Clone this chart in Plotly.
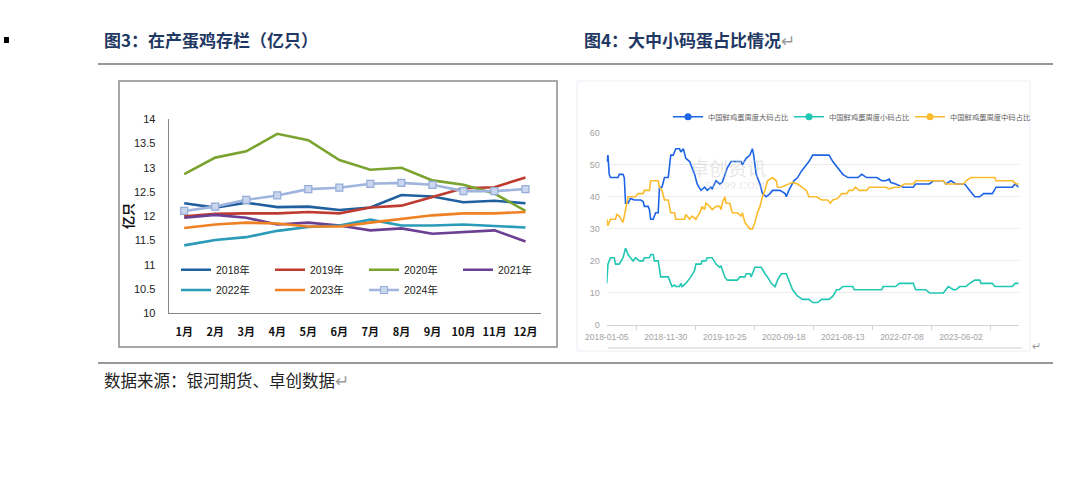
import plotly.graph_objects as go

W, H = 1080, 490

# ---------- 图3 在产蛋鸡存栏（亿只） ----------
months = ["1月", "2月", "3月", "4月", "5月", "6月", "7月", "8月", "9月", "10月", "11月", "12月"]
y2018 = [12.27, 12.18, 12.28, 12.19, 12.20, 12.13, 12.18, 12.44, 12.41, 12.29, 12.32, 12.27]
y2019 = [12.00, 12.05, 12.06, 12.06, 12.09, 12.06, 12.18, 12.22, 12.40, 12.58, 12.60, 12.80]
y2020 = [12.87, 13.21, 13.34, 13.70, 13.57, 13.16, 12.96, 13.00, 12.74, 12.65, 12.47, 12.11]
y2021 = [11.97, 12.03, 11.97, 11.83, 11.87, 11.81, 11.71, 11.75, 11.64, 11.68, 11.71, 11.48]
y2022 = [11.40, 11.51, 11.57, 11.70, 11.78, 11.81, 11.93, 11.81, 11.81, 11.83, 11.80, 11.77]
y2023 = [11.76, 11.83, 11.87, 11.85, 11.79, 11.79, 11.87, 11.94, 12.02, 12.06, 12.06, 12.09]
y2024 = [12.11, 12.20, 12.34, 12.43, 12.56, 12.59, 12.67, 12.69, 12.65, 12.52, 12.52, 12.56]

# ---------- 图4 大中小码蛋占比情况（周度） ----------
week_labels = ["2018-01-05", "2018-11-30", "2019-10-25", "2020-09-18",
               "2021-08-13", "2022-07-08", "2023-06-02"]
week_label_pos = [0, 47, 94, 141, 188, 235, 282]

big_w = [0, 1, 2, 3, 9, 10, 13, 14, 15, 17, 19, 22, 27, 29, 30, 33, 34, 35, 37, 39,
         41, 42, 44, 46, 49, 51, 53, 55, 58, 59, 61, 63, 66, 67, 70, 72, 75, 78, 80, 83,
         84, 87, 90, 92, 95, 96, 99, 103, 107, 108, 111, 114, 116, 117, 119, 122, 124, 127, 130, 132,
         138, 142, 143, 145, 149, 152, 155, 159, 161, 164, 177, 180, 184, 188, 192, 200, 203, 207, 215, 219,
         222, 225, 226, 230, 236, 244, 246, 257, 260, 268, 270, 274, 278, 285, 289, 293, 297, 300, 307, 310,
         323, 325, 328]
big_v = [51, 53, 47, 46, 46, 47, 47, 46, 38, 38, 39.5, 39, 39, 38.5, 37, 37, 36, 33, 33, 35,
         35, 43, 43, 46, 46, 53, 53, 55, 55, 54, 55, 52, 51, 50, 47, 44, 42, 43, 42, 43,
         42.5, 45, 44, 44.5, 48, 49, 51, 51, 51, 50, 52, 53, 55, 53, 47, 44, 41, 40, 41, 42,
         42, 41, 40, 42, 45, 46, 48, 50, 51, 53, 53, 51, 49, 47, 46, 46, 47, 46, 46, 45,
         45, 45.5, 44.5, 44, 43, 43, 44, 44, 45, 45, 44, 45, 44, 44, 42, 40, 40, 41, 41, 43,
         43, 44, 43]

mid_w = [0, 1, 3, 7, 8, 10, 13, 15, 17, 19, 23, 25, 29, 30, 34, 35, 41, 42, 44, 46,
         49, 51, 54, 55, 62, 63, 66, 68, 71, 74, 76, 78, 79, 82, 84, 87, 90, 91, 92, 94,
         95, 98, 100, 104, 107, 108, 110, 112, 114, 116, 118, 120, 122, 124, 126, 128, 132, 135, 136, 139,
         142, 145, 148, 152, 156, 159, 161, 167, 171, 176, 178, 180, 184, 187, 191, 193, 196, 198, 201, 207,
         209, 222, 225, 229, 233, 237, 244, 246, 268, 270, 284, 286, 290, 309, 310, 323, 326, 328]
mid_v = [33, 31, 33, 33, 34.5, 34, 32, 36, 40, 40, 40, 41, 41, 42, 42, 45, 45, 43, 42, 39,
         39, 35, 35, 33, 33, 34.5, 33, 34, 33, 35, 37, 36, 38, 37, 36, 37, 37, 36, 38, 40,
         38, 38, 35, 35, 34, 35, 32, 31, 30, 30, 32, 35, 37, 40, 42, 45, 46, 45, 43, 43,
         43.5, 44, 44.5, 44, 43, 42, 40, 40, 39, 39, 38, 39, 39.5, 41, 41, 42, 42, 43, 42, 42,
         43, 43, 42.5, 43, 43, 44, 44, 45, 45, 44, 44, 45, 46, 46, 45, 45, 44, 44]

small_w = [0, 1, 3, 6, 7, 10, 13, 15, 17, 19, 21, 23, 26, 29, 30, 34, 35, 37, 38, 41,
           42, 43, 49, 50, 52, 54, 55, 58, 59, 60, 63, 65, 67, 70, 71, 75, 76, 79, 80, 84,
           87, 90, 91, 94, 96, 104, 106, 110, 111, 114, 115, 118, 123, 126, 128, 131, 134, 136, 139, 143,
           145, 148, 152, 156, 161, 164, 168, 171, 177, 180, 183, 185, 188, 196, 197, 219, 220, 230, 233, 244,
           246, 254, 257, 268, 270, 272, 276, 278, 281, 286, 289, 293, 297, 298, 307, 309, 323, 325, 328]
small_v = [13, 19, 21, 21, 19, 19, 21, 24, 22, 21, 20, 21, 20, 20, 21, 21, 22, 22, 20, 20,
           18, 15, 15, 14, 12, 12.5, 12, 12, 13, 12, 13, 14, 15, 17, 19, 19, 20, 20, 21, 21,
           19, 18, 18.5, 15, 14, 14, 15, 15, 16, 16, 15, 18, 18, 16, 15, 13, 12, 14, 16, 16,
           14, 11, 9, 8, 8, 7, 7, 8, 8, 9, 11, 11, 12, 12, 11, 11, 12, 12, 13, 13,
           11, 11, 10, 10, 11, 12, 11, 11, 12, 12, 13, 14, 14, 13, 13, 12, 12, 13, 13]

FONT = "Liberation Sans, Noto Sans CJK SC, sans-serif"
CJK = "Noto Sans CJK SC, sans-serif"


def px(x):
    return x / W


def py(y):
    return 1 - y / H


fig = go.Figure()

left_series = [
    ("2018年", y2018, "#20609f", "legend"),
    ("2019年", y2019, "#be3b30", "legend"),
    ("2020年", y2020, "#7ba330", "legend"),
    ("2021年", y2021, "#6b3f92", "legend"),
    ("2022年", y2022, "#2a9bb8", "legend2"),
    ("2023年", y2023, "#ee8124", "legend2"),
]
for name, vals, col, lg in left_series:
    fig.add_trace(go.Scatter(
        x=months, y=vals, name=name, mode="lines", legend=lg,
        line=dict(color=col, width=2.6), xaxis="x", yaxis="y"))

fig.add_trace(go.Scatter(
    x=months, y=y2024, name="2024年", mode="lines+markers", legend="legend2",
    line=dict(color="#9fb5dd", width=2.6),
    marker=dict(symbol="square", size=7, color="#c9d6ee",
                line=dict(color="#94acd8", width=1.2)),
    xaxis="x", yaxis="y"))

right_series = [
    ("中国鲜鸡蛋周度大码占比", big_w, big_v, "#1d64e6"),
    ("中国鲜鸡蛋周度小码占比", small_w, small_v, "#21c7b3"),
    ("中国鲜鸡蛋周度中码占比", mid_w, mid_v, "#fbbb2c"),
]
for name, wk, vals, col in right_series:
    fig.add_trace(go.Scatter(
        x=wk, y=vals, mode="lines", showlegend=False,
        line=dict(color=col, width=1.6), xaxis="x2", yaxis="y2", hoverinfo="skip"))
    # legend-only entry (line + dot icon)
    fig.add_trace(go.Scatter(
        x=[None], y=[None], name=name, mode="lines+markers", legend="legend3",
        line=dict(color=col, width=1.6), marker=dict(color=col, size=7),
        xaxis="x2", yaxis="y2"))

mid_ticks = [p + 23.5 for p in week_label_pos] + [week_label_pos[-1] + 47 + 23.5]

fig.update_layout(
    width=W, height=H, margin=dict(l=0, r=0, t=0, b=0, autoexpand=False),
    paper_bgcolor="white", plot_bgcolor="white",
    font=dict(family=FONT, color="#333"),
    xaxis=dict(domain=[px(168.7), px(541)], type="category", range=[-0.5, 11.5],
               anchor="y", showgrid=False, showline=True, linecolor="#888", linewidth=1.2,
               ticks="", ticklabelstandoff=8,
               tickfont=dict(family=CJK, size=11, color="#111", weight="bold")),
    yaxis=dict(domain=[py(313.3), py(119.3)], range=[10, 14], dtick=0.5, anchor="x",
               showgrid=False, showline=True, linecolor="#888", linewidth=1.2,
               ticks="", ticklabelstandoff=10, zeroline=False,
               tickfont=dict(size=11, color="#222")),
    xaxis2=dict(domain=[px(606.7), px(1018.7)], range=[0, 328], anchor="y2",
                tickvals=week_label_pos, ticktext=week_labels,
                showgrid=False, showline=True, linecolor="#cfd3da", linewidth=1.2,
                zeroline=False, ticks="", ticklabelstandoff=4,
                minor=dict(tickvals=mid_ticks, ticks="outside", ticklen=4,
                           tickcolor="#cfd3da", showgrid=False),
                tickfont=dict(size=8.5, color="#a3a3a3")),
    yaxis2=dict(domain=[py(325), py(132.7)], range=[0, 60], dtick=10, anchor="x2",
                showgrid=True, gridcolor="#ececec", gridwidth=1, zeroline=False,
                showline=False, ticks="", ticklabelstandoff=6,
                tickfont=dict(size=9, color="#a3a3a3")),
    legend=dict(orientation="h", x=px(176), xanchor="left", y=py(269.7), yanchor="middle",
                entrywidth=49, entrywidthmode="pixels", bgcolor="rgba(0,0,0,0)",
                font=dict(size=10.5, color="#222"), tracegroupgap=0),
    legend2=dict(orientation="h", x=px(176), xanchor="left", y=py(290), yanchor="middle",
                 entrywidth=49, entrywidthmode="pixels", bgcolor="rgba(0,0,0,0)",
                 font=dict(size=10.5, color="#222"), tracegroupgap=0),
    legend3=dict(orientation="h", x=px(668), xanchor="left", y=py(116.7), yanchor="middle",
                 entrywidth=76, entrywidthmode="pixels", bgcolor="rgba(0,0,0,0)",
                 font=dict(family=CJK, size=7.3, color="#5f5f5f"), tracegroupgap=0),
)

shapes = [
    # bullet square
    dict(type="rect", x0=px(4), x1=px(9), y0=py(43), y1=py(37), fillcolor="#000", line_width=0),
    # top and bottom rules
    dict(type="line", x0=px(98), x1=px(1053), y0=py(64), y1=py(64), line=dict(color="#333", width=1.2)),
    dict(type="line", x0=px(98), x1=px(1053), y0=py(363), y1=py(363), line=dict(color="#333", width=1.2)),
    # left chart frame
    dict(type="rect", x0=px(119), x1=px(557), y0=py(347), y1=py(81), line=dict(color="#8c8c8c", width=1.5)),
    # right chart faint frame
    dict(type="rect", x0=px(577), x1=px(1030), y0=py(351), y1=py(81), line=dict(color="#eaeff5", width=1)),
    dict(type="line", x0=px(608), x1=px(1022), y0=py(348), y1=py(348), line=dict(color="#cfcfcf", width=1)),
]
for s in shapes:
    s.update(xref="paper", yref="paper")
fig.update_layout(shapes=shapes)

annotations = [
    dict(x=px(102), y=py(40), text="图3：在产蛋鸡存栏（亿只）", xanchor="left", yanchor="middle",
         font=dict(family=CJK, size=17, color="#1f3864", weight="bold")),
    dict(x=px(582), y=py(40), text="图4：大中小码蛋占比情况<span style='color:#9a9a9a;font-weight:normal'>↵</span>",
         xanchor="left", yanchor="middle",
         font=dict(family=CJK, size=17, color="#1f3864", weight="bold")),
    dict(x=px(102), y=py(380), text="数据来源：银河期货、卓创数据<span style='color:#9a9a9a'>↵</span>",
         xanchor="left", yanchor="middle", font=dict(family=CJK, size=16.5, color="#222")),
    dict(x=px(128), y=py(216), text="亿只", textangle=-90, xanchor="center", yanchor="middle",
         font=dict(family=CJK, size=13, color="#111", weight="bold")),
    dict(x=px(1036), y=py(345), text="↵", xanchor="center", yanchor="middle",
         font=dict(family=CJK, size=11, color="#9a9a9a")),
    # faint watermark
    dict(x=px(728), y=py(167), text="卓创资讯", xanchor="center", yanchor="middle",
         font=dict(family=CJK, size=19, color="rgba(200,200,200,0.45)")),
    dict(x=px(735), y=py(185), text="SCI99.COM", xanchor="center", yanchor="middle",
         font=dict(family="DejaVu Serif", size=10, color="rgba(200,200,200,0.45)")),
]
for a in annotations:
    a.update(xref="paper", yref="paper", showarrow=False)
fig.update_layout(annotations=annotations)

# drop the browser's default 8px page margin so the figure sits at the window origin
fig.write_html("out.html", config={"displayModeBar": False},
               post_script="document.body.style.margin='0';")
